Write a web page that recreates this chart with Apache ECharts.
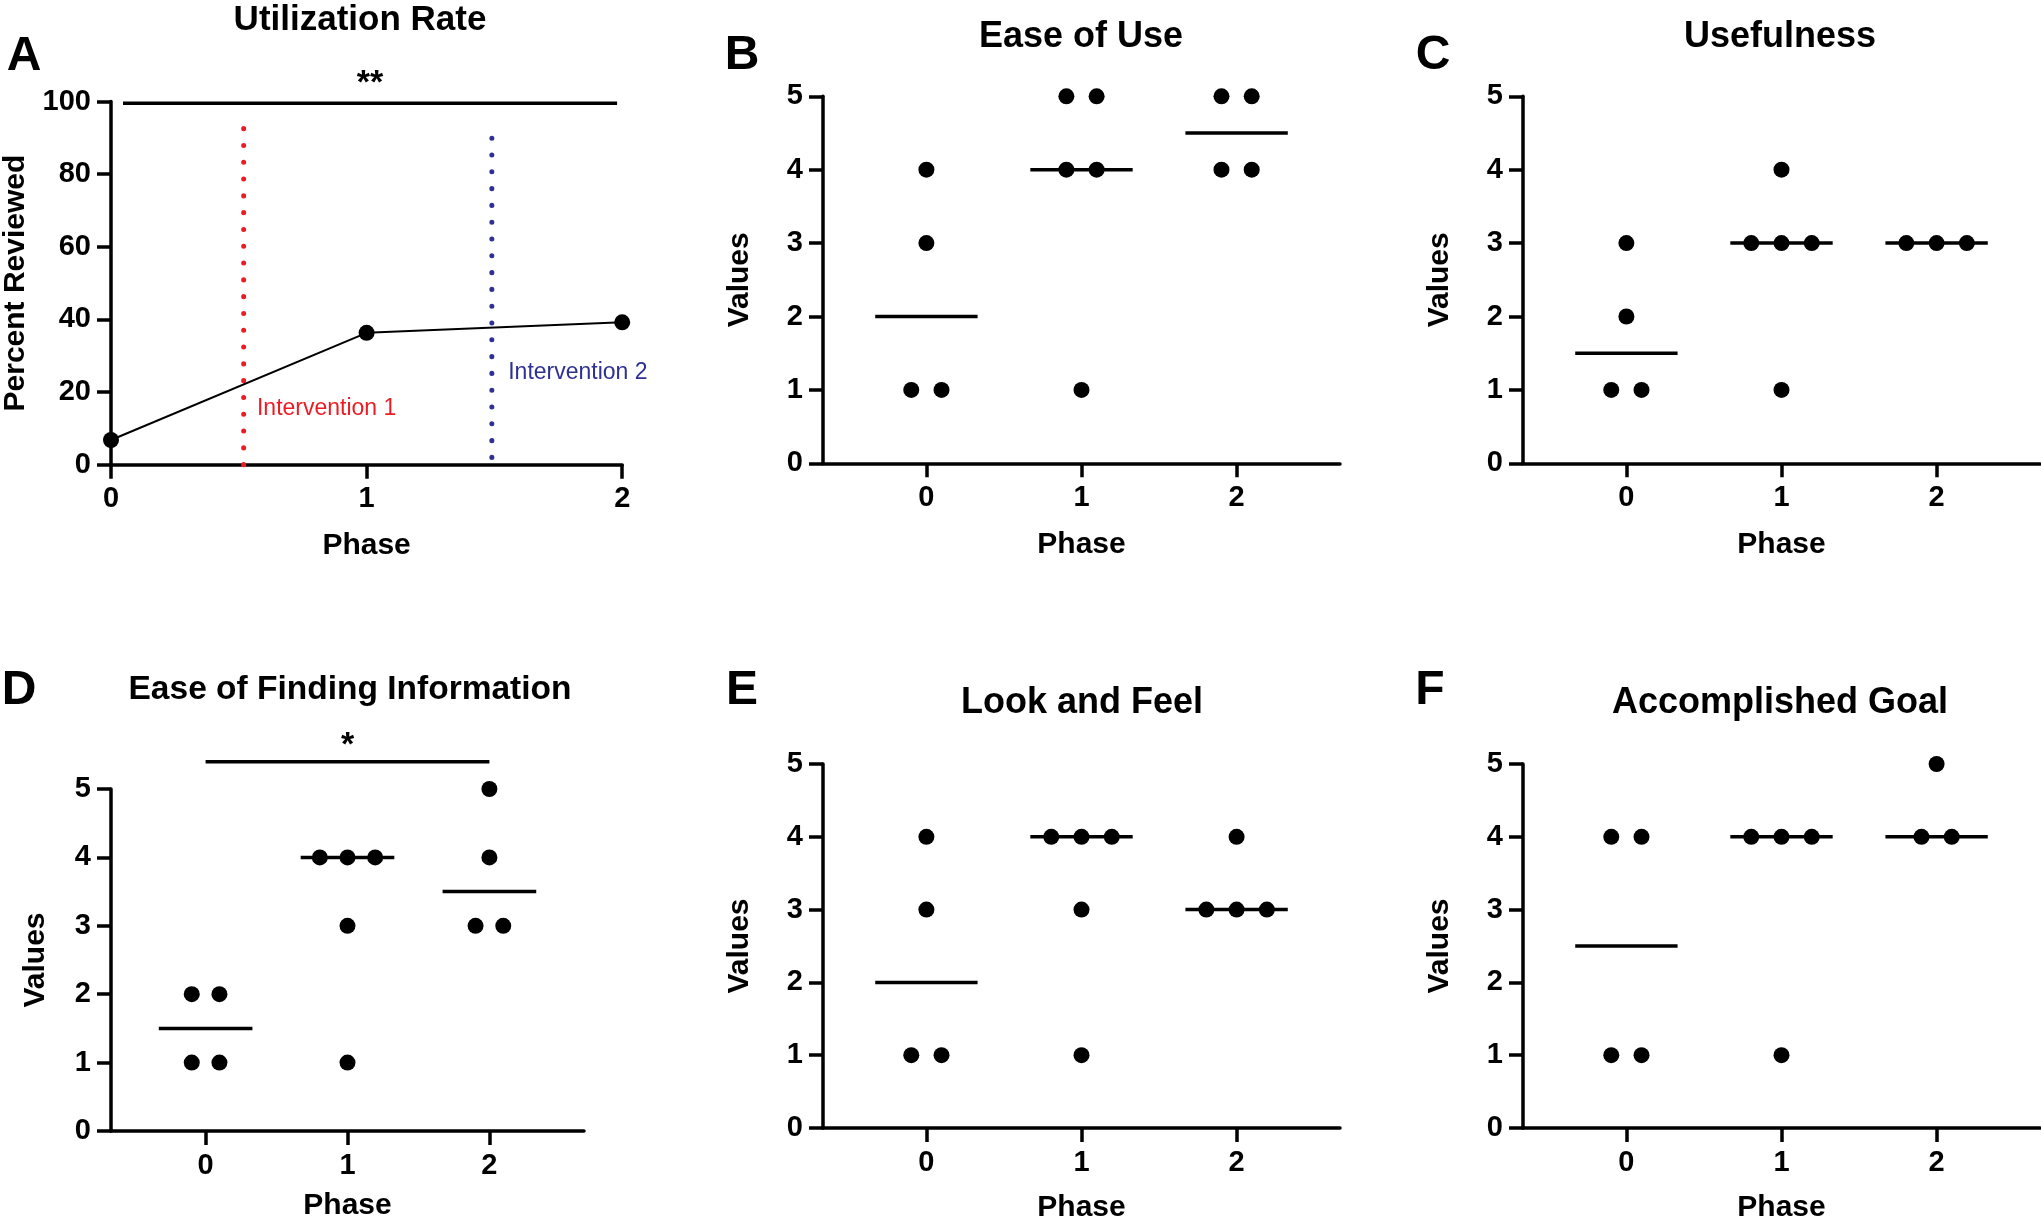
<!DOCTYPE html>
<html>
<head>
<meta charset="utf-8">
<script src="https://cdn.jsdelivr.net/npm/echarts@6/dist/echarts.min.js"></script>
<style>
html,body{margin:0;padding:0;background:#fff;}
#main{width:2041px;height:1224px;}
</style>
</head>
<body>
<div id="main"></div>
<script>
// ---------- DATA ----------
const phaseTicks = [0, 1, 2];

// Panel A: Utilization Rate (percent reviewed)
const utilPhase = [0, 1, 2];
const utilPercent = [6.8, 36.3, 39.2];
const interventionNames = ['Intervention 1', 'Intervention 2'];
const interventionPhase = [0.519, 1.49];
const interventionTop = [96.5, 93.5];
const interventionBottom = [0, 2];
const interventionLabelPos = [[0.571, 15.4], [1.554, 25.4]];
const sigA = { from: 0.047, to: 1.98, y: 99.5, label: '**', labelY: 107 };

// Panels B-F: values per phase (0, 1, 2)
const easeOfUse     = [[4, 3, 1, 1], [5, 5, 4, 4, 1], [5, 5, 4, 4]];
const usefulness    = [[3, 2, 1, 1], [4, 3, 3, 3, 1], [3, 3, 3]];
const easeFinding   = [[2, 2, 1, 1], [4, 4, 4, 3, 1], [5, 4, 3, 3]];
const lookAndFeel   = [[4, 3, 1, 1], [4, 4, 4, 3, 1], [4, 3, 3, 3]];
const accomplished  = [[4, 4, 1, 1], [4, 4, 4, 1], [5, 4, 4]];
const sigD = { from: 0, to: 2, y: 5.4, label: '*', labelY: 5.75 };

// ---------- HELPERS ----------
const FONT = '"Liberation Sans", Arial, Helvetica, sans-serif';
const SPREAD = 0.195;
function swarm(values, phase) {
  const counts = {};
  values.forEach(v => counts[v] = (counts[v] || 0) + 1);
  const seen = {};
  return values.map(v => {
    seen[v] = seen[v] === undefined ? 0 : seen[v] + 1;
    return [phase + (seen[v] - (counts[v] - 1) / 2) * SPREAD, v];
  });
}
function median(arr) {
  const s = arr.slice().sort((a, b) => a - b);
  const m = Math.floor(s.length / 2);
  return s.length % 2 ? s[m] : (s[m - 1] + s[m]) / 2;
}

const axisLineStyle = { color: '#000', width: 3.5 };
const tickLabel = { color: '#000', fontSize: 29, fontWeight: 'bold', fontFamily: FONT, margin: 20 };
const nameStyle = { color: '#000', fontSize: 30, fontWeight: 'bold', fontFamily: FONT };

// grids: [left, top, width, height]
const grids = [
  [110.6, 101.5, 511.6, 363.2],
  [823, 96.3, 517, 367],
  [1523, 96.3, 517, 367],
  [111, 789, 473, 342],
  [823, 764, 517, 367],
  [1523, 764, 517, 367]
];
const yNameGap = [80, 68, 68, 60, 68, 68];
const xNameGap = [66, 66, 66, 60, 65, 65];

const option = {
  backgroundColor: '#fff',
  animation: false,
  grid: grids.map(g => ({ left: g[0], top: g[1], width: g[2], height: g[3] })),
  xAxis: grids.map((g, i) => {
    const base = {
      gridIndex: i, type: 'value',
      name: 'Phase', nameLocation: 'middle', nameGap: xNameGap[i], nameTextStyle: nameStyle,
      axisLine: { show: true, onZero: false, lineStyle: axisLineStyle },
      axisTick: { show: true, length: 14, lineStyle: axisLineStyle },
      axisLabel: Object.assign({}, tickLabel),
      splitLine: { show: false }
    };
    if (i === 0) {
      Object.assign(base, { min: 0, max: 2, interval: 1 });
    } else {
      Object.assign(base, { min: -2 / 3, max: 8 / 3 });
      base.axisTick.customValues = phaseTicks;
      base.axisLabel.customValues = phaseTicks;
    }
    return base;
  }),
  yAxis: grids.map((g, i) => ({
    gridIndex: i, type: 'value',
    min: 0, max: i === 0 ? 100 : 5, interval: i === 0 ? 20 : 1,
    name: i === 0 ? 'Percent Reviewed' : 'Values', nameLocation: 'middle', nameGap: yNameGap[i], nameTextStyle: nameStyle,
    axisLine: { show: true, onZero: false, lineStyle: axisLineStyle },
    axisTick: { show: true, length: 14, lineStyle: axisLineStyle },
    axisLabel: Object.assign({}, tickLabel),
    splitLine: { show: false }
  })),
  series: [],
  graphic: []
};

// ---- Panel A ----
interventionNames.forEach((nm, k) => {
  const col = k === 0 ? '#ed1c24' : '#2e3192';
  option.series.push({
    type: 'line', xAxisIndex: 0, yAxisIndex: 0, clip: false, silent: true,
    data: [[interventionPhase[k], interventionBottom[k]], [interventionPhase[k], interventionTop[k]]],
    showSymbol: false, symbol: 'none',
    lineStyle: { color: col, width: 5, type: [0.1, 16.7], cap: 'round', opacity: 1 }
  });
  option.series.push({
    type: 'scatter', xAxisIndex: 0, yAxisIndex: 0, symbolSize: 0, silent: true,
    data: [interventionLabelPos[k]],
    itemStyle: { opacity: 1 },
    label: { show: true, position: 'inside', align: 'left', verticalAlign: 'middle', formatter: nm,
      color: col, opacity: 1, fontSize: 23, fontFamily: FONT }
  });
});
option.series.push({
  type: 'line', xAxisIndex: 0, yAxisIndex: 0, clip: false,
  data: utilPhase.map((p, i) => [p, utilPercent[i]]),
  symbol: 'circle', symbolSize: 16,
  itemStyle: { color: '#000', opacity: 1 },
  lineStyle: { color: '#000', width: 2 }
});
function addSig(idx, s) {
  option.series.push({
    type: 'line', xAxisIndex: idx, yAxisIndex: idx, clip: false, symbol: 'none',
    data: [[s.from, s.y], [s.to, s.y]],
    lineStyle: { color: '#000', width: 3.5 }
  });
  option.series.push({
    type: 'scatter', xAxisIndex: idx, yAxisIndex: idx, clip: false, symbolSize: 0,
    data: [[(s.from + s.to) / 2, s.labelY]],
    itemStyle: { opacity: 1 },
    label: { show: true, position: 'inside', formatter: s.label, color: '#000', fontSize: 34,
      fontWeight: 'bold', fontFamily: FONT, offset: [0, 8] }
  });
}
addSig(0, sigA);

// ---- Panels B-F ----
const panels = [easeOfUse, usefulness, easeFinding, lookAndFeel, accomplished];
panels.forEach((groups, j) => {
  const idx = j + 1;
  const pts = [];
  groups.forEach((vals, p) => pts.push(...swarm(vals, phaseTicks[p])));
  option.series.push({
    type: 'custom', xAxisIndex: idx, yAxisIndex: idx, clip: false,
    data: groups.map((vals, p) => [phaseTicks[p], median(vals)]),
    renderItem: function (params, api) {
      const x = api.value(0), y = api.value(1);
      const a = api.coord([x - 0.33, y]);
      const b = api.coord([x + 0.33, y]);
      return { type: 'line', shape: { x1: a[0], y1: a[1], x2: b[0], y2: b[1] },
        style: { stroke: '#000', lineWidth: 3.5 } };
    }
  });
  option.series.push({
    type: 'scatter', xAxisIndex: idx, yAxisIndex: idx, clip: false,
    data: pts, symbol: 'circle', symbolSize: 16, itemStyle: { color: '#000', opacity: 1 }
  });
});
addSig(3, sigD);

// ---- Titles and panel letters ----
const titles = [
  ['Utilization Rate', 360, 20, 35],
  ['Ease of Use', 1081, 37, 36],
  ['Usefulness', 1780, 37, 36],
  ['Ease of Finding Information', 350, 690, 33.5],
  ['Look and Feel', 1082, 703, 36],
  ['Accomplished Goal', 1780, 703, 36]
];
titles.forEach(t => option.graphic.push({
  type: 'text', x: t[1], y: t[2],
  style: { text: t[0], font: 'bold ' + t[3] + 'px ' + FONT, fill: '#000', textAlign: 'center', textVerticalAlign: 'middle' }
}));
const letters = [['A', 24, 57], ['B', 742, 56], ['C', 1433, 56], ['D', 19, 691], ['E', 742, 691], ['F', 1430, 691]];
letters.forEach(t => option.graphic.push({
  type: 'text', x: t[1], y: t[2],
  style: { text: t[0], font: 'bold 48px ' + FONT, fill: '#000', textAlign: 'center', textVerticalAlign: 'middle' }
}));

const chart = echarts.init(document.getElementById('main'), null, { renderer: 'canvas' });
chart.setOption(option);
</script>
</body>
</html>
